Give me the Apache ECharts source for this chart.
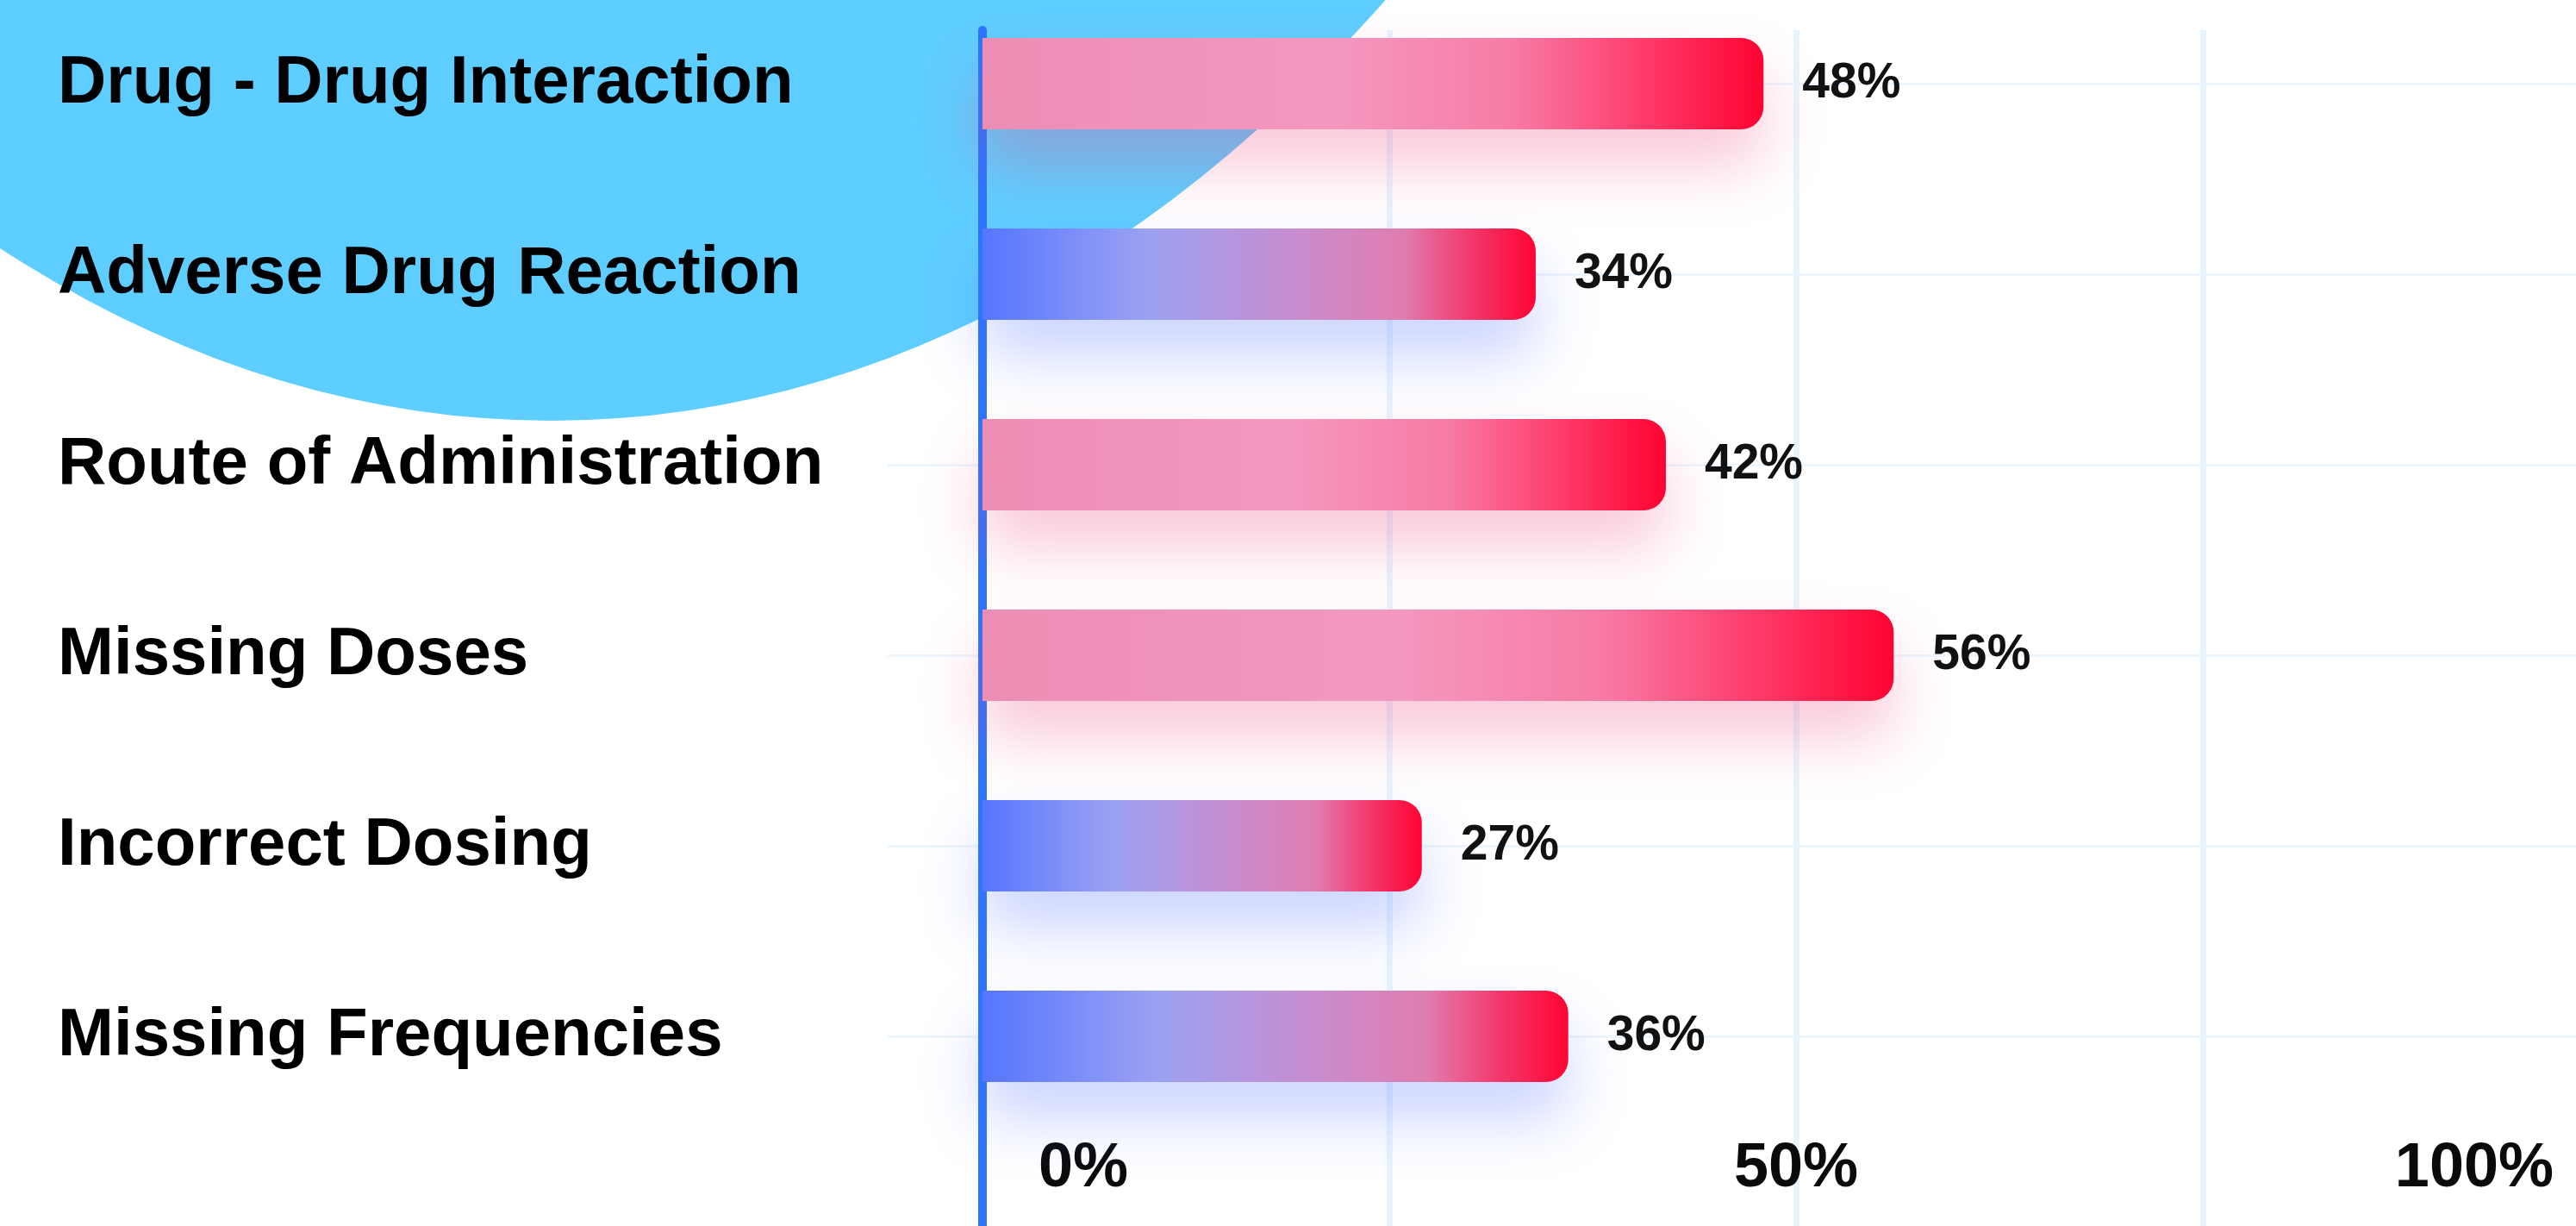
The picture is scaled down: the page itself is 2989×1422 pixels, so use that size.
<!DOCTYPE html>
<html>
<head>
<meta charset="utf-8">
<style>
  html, body { margin: 0; padding: 0; background: #ffffff; }
  #chart { width: 2989px; height: 1422px; }
</style>
<script src="https://cdn.jsdelivr.net/npm/echarts@6/dist/echarts.min.js"></script>
</head>
<body>
<div id="chart"></div>
<script>
// ---- data ----
const categories = [
  'Drug - Drug Interaction',
  'Adverse Drug Reaction',
  'Route of Administration',
  'Missing Doses',
  'Incorrect Dosing',
  'Missing Frequencies'
];
const values = [48, 34, 42, 56, 27, 36];
const barTones = ['pink', 'blue', 'pink', 'pink', 'blue', 'blue'];
const axisMin = 0;
const axisMax = 100;
const gridStep = 25;
const labelledTicks = [0, 50, 100];

// ---- styles ----
const FONT = "'Liberation Sans', Arial, sans-serif";
const tones = {
  pink: {
    stops: [
      { offset: 0, color: '#EC8DB4' },
      { offset: 0.45, color: '#F498BF' },
      { offset: 0.68, color: '#F77BA6' },
      { offset: 0.84, color: '#FE3E6D' },
      { offset: 1, color: '#FF0331' }
    ],
    shadow: 'rgba(236, 70, 128, 0.30)'
  },
  blue: {
    stops: [
      { offset: 0, color: '#5576FF' },
      { offset: 0.3, color: '#9CA2F2' },
      { offset: 0.55, color: '#C68ED2' },
      { offset: 0.76, color: '#E07DAF' },
      { offset: 0.88, color: '#F3386D' },
      { offset: 1, color: '#FF0533' }
    ],
    shadow: 'rgba(80, 112, 255, 0.30)'
  }
};

const barData = values.map((v, i) => {
  const t = tones[barTones[i]];
  return {
    value: v,
    itemStyle: {
      color: { type: 'linear', x: 0, y: 0, x2: 1, y2: 0, colorStops: t.stops },
      shadowColor: t.shadow,
      shadowBlur: 70,
      shadowOffsetY: 42,
      borderRadius: [0, 26, 26, 0]
    }
  };
});

const chart = echarts.init(document.getElementById('chart'), null, { renderer: 'canvas' });

chart.setOption({
  backgroundColor: '#ffffff',
  animation: false,
  graphic: {
    elements: [{
      type: 'circle',
      x: 640,
      y: -1909,
      scaleY: 2397 / 1600,
      shape: { cx: 0, cy: 0, r: 1600 },
      style: { fill: '#5ECDFF' },
      z: -100,
      silent: true
    }]
  },
  grid: [
    // 0: horizontal guide lines through category centres
    { left: 1030, right: -39, top: 97, bottom: 220, outerBoundsMode: 'none', containLabel: false },
    // 1: bars
    { left: 1140, right: -39, top: -13.5, bottom: 109.5, outerBoundsMode: 'none', containLabel: false },
    // 2: vertical guides, axis line and value labels
    { left: 1140, right: -39, top: 35, bottom: 0, outerBoundsMode: 'none', containLabel: false }
  ],
  xAxis: [
    { gridIndex: 0, type: 'value', min: axisMin, max: axisMax, show: false },
    { gridIndex: 1, type: 'value', min: axisMin, max: axisMax, show: false },
    {
      gridIndex: 2, type: 'value', min: axisMin, max: axisMax, interval: gridStep,
      axisLine: { show: false },
      axisTick: { show: false },
      splitLine: { show: true, lineStyle: { color: '#E8F4FE', width: 7 } },
      axisLabel: {
        inside: true,
        margin: 30,
        fontSize: 72,
        fontWeight: 'bold',
        fontFamily: FONT,
        color: '#0a0a0a',
        padding: [0, 65, 0, 65],
        alignMinLabel: 'left',
        alignMaxLabel: 'right',
        hideOverlap: false,
        formatter: v => labelledTicks.includes(v) ? v + '%' : ''
      }
    }
  ],
  yAxis: [
    {
      gridIndex: 0, type: 'category', data: categories, inverse: true, boundaryGap: false,
      z: -200,
      axisLine: { show: false }, axisTick: { show: false }, axisLabel: { show: false },
      splitLine: { show: true, lineStyle: { color: '#EEF6FD', width: 3 } }
    },
    {
      gridIndex: 1, type: 'category', data: categories, inverse: true,
      axisLine: { show: false }, axisTick: { show: false }, splitLine: { show: false },
      axisLabel: {
        align: 'left',
        margin: 1073,
        fontSize: 78,
        fontWeight: 'bold',
        fontFamily: FONT,
        color: '#000000'
      }
    },
    {
      gridIndex: 2, type: 'value', min: 0, max: 1,
      axisLine: { show: true, lineStyle: { color: '#2B74FF', width: 10 } },
      axisTick: { show: false }, axisLabel: { show: false }, splitLine: { show: false }
    }
  ],
  series: [{
    type: 'bar',
    xAxisIndex: 1,
    yAxisIndex: 1,
    data: barData,
    barWidth: 106,
    z: 3,
    label: {
      show: true,
      position: 'right',
      distance: 45,
      fontSize: 57,
      fontWeight: 'bold',
      fontFamily: FONT,
      color: '#111111',
      formatter: p => p.value + '%'
    }
  }]
});
</script>
</body>
</html>
